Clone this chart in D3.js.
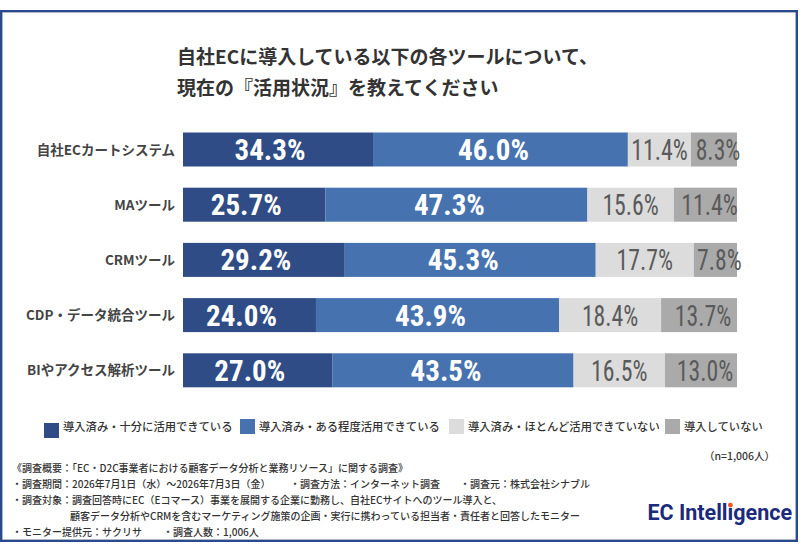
<!DOCTYPE html>
<html>
<head>
<meta charset="utf-8">
<script src="https://cdn.jsdelivr.net/npm/d3@7"></script>
<style>
  body { margin: 0; background: #fff; }
  svg { display: block; }
  .jp { font-family: "Noto Sans CJK JP", "Noto Sans", sans-serif; }
  .num { font-family: "Liberation Sans Narrow", "Roboto Condensed", Roboto, sans-serif; }
</style>
</head>
<body>
<div id="chart"></div>
<script>
// Chart data
const categories = ['自社ECカートシステム', 'MAツール', 'CRMツール', 'CDP・データ統合ツール', 'BIやアクセス解析ツール']
const seriesNames = ['導入済み・十分に活用できている', '導入済み・ある程度活用できている', '導入済み・ほとんど活用できていない', '導入していない']
const fullyUsed = [34.3, 25.7, 29.2, 24.0, 27.0]
const partlyUsed = [46.0, 47.3, 45.3, 43.9, 43.5]
const hardlyUsed = [11.4, 15.6, 17.7, 18.4, 16.5]
const notUsed = [8.3, 11.4, 7.8, 13.7, 13.0]
const titleLines = ['自社ECに導入している以下の各ツールについて、', '現在の『活用状況』を教えてください']
const sampleNote = '（n=1,006人）'
const notes = [
  [{ x: 12, t: '《調査概要：「EC・D2C事業者における顧客データ分析と業務リソース」に関する調査》' }],
  [{ x: 12, t: '・調査期間：2026年7月1日（水）～2026年7月3日（金）' },
   { x: 290, t: '・調査方法：インターネット調査' },
   { x: 460, t: '・調査元：株式会社シナブル' }],
  [{ x: 12, t: '・調査対象：調査回答時にEC（Eコマース）事業を展開する企業に勤務し、自社ECサイトへのツール導入と、' }],
  [{ x: 70, t: '顧客データ分析やCRMを含むマーケティング施策の企画・実行に携わっている担当者・責任者と回答したモニター' }],
  [{ x: 12, t: '・モニター提供元：サクリサ' },
   { x: 163, t: '・調査人数：1,006人' }]
]

const colors = ['#2f4c86', '#4672b0', '#dcdcdc', '#aaaaaa']
const labelColors = ['#ffffff', '#ffffff', '#5a5a5a', '#5a5a5a']
const labelWeights = [700, 700, 400, 400]
// per-series nudge and horizontal squeeze of the value labels (condensed look)
const labelNudge = [-8, -7, 0, 4]
const labelSqueeze = [1, 1, 0.82, 0.82]

const width = 800
const height = 553

const svg = d3.select('#chart').append('svg')
  .attr('width', width)
  .attr('height', height)

// Frame
svg.append('rect')
  .attr('x', 1.2).attr('y', 11.2)
  .attr('width', 795.6).attr('height', 529.6)
  .attr('fill', '#fff')
  .attr('stroke', '#2b4a8b')
  .attr('stroke-width', 2.4)

// Title
svg.append('g').selectAll('text')
  .data(titleLines)
  .enter()
  .append('text')
  .attr('class', 'jp')
  .attr('x', 177)
  .attr('y', (d, i) => 64 + i * 31)
  .attr('font-size', 19)
  .attr('font-weight', 700)
  .attr('fill', '#333')
  .text(d => d)

// Scales
const x = d3.scaleLinear().domain([0, 100]).range([183, 737])
const y = d3.scaleBand()
  .domain(categories)
  .range([132.5, 387.3])
  .paddingInner(0.384)
  .paddingOuter(0)

// Stack the data
const rows = categories.map((c, i) => ({
  cat: c,
  s0: fullyUsed[i], s1: partlyUsed[i], s2: hardlyUsed[i], s3: notUsed[i]
}))
const stack = d3.stack().keys(['s0', 's1', 's2', 's3'])(rows)

svg.append('g').selectAll('g')
  .data(stack)
  .enter()
  .append('g')
  .attr('fill', (d, i) => colors[i])
  .selectAll('rect')
  .data(d => d)
  .enter()
  .append('rect')
  .attr('x', d => x(d[0]))
  .attr('y', d => y(d.data.cat))
  .attr('width', d => x(d[1]) - x(d[0]))
  .attr('height', y.bandwidth())

// Value labels
stack.forEach((layer, k) => {
  svg.append('g').selectAll('text')
    .data(layer)
    .enter()
    .append('text')
    .attr('class', 'num')
    .attr('transform', d => {
      let cx = (x(d[0]) + x(d[1])) / 2 + labelNudge[k]
      let cy = y(d.data.cat) + y.bandwidth() / 2 + 10.5
      return `translate(${cx}, ${cy}) scale(${labelSqueeze[k]}, 1)`
    })
    .attr('text-anchor', 'middle')
    .attr('font-size', 29)
    .attr('font-weight', labelWeights[k])
    .attr('fill', labelColors[k])
    .text(d => (d[1] - d[0]).toFixed(1) + '%')
})

// Category labels
svg.append('g').selectAll('text')
  .data(categories)
  .enter()
  .append('text')
  .attr('class', 'jp')
  .attr('x', 175)
  .attr('y', d => y(d) + y.bandwidth() / 2 + 5)
  .attr('text-anchor', 'end')
  .attr('font-size', 13.5)
  .attr('font-weight', 700)
  .attr('fill', '#444')
  .text(d => d)

// Legend
const legendX = [44, 240, 449, 665]
const legendBoxY = [423, 419, 419, 419]
const legend = svg.append('g').selectAll('g')
  .data(seriesNames)
  .enter()
  .append('g')

legend.append('rect')
  .attr('x', (d, i) => legendX[i])
  .attr('y', (d, i) => legendBoxY[i])
  .attr('width', 15)
  .attr('height', 15)
  .attr('fill', (d, i) => colors[i])

legend.append('text')
  .attr('class', 'jp')
  .attr('x', (d, i) => legendX[i] + 19)
  .attr('y', 430.5)
  .attr('font-size', 11.3)
  .attr('font-weight', 500)
  .attr('fill', '#333')
  .text(d => d)

// Sample size
svg.append('text')
  .attr('class', 'jp')
  .attr('x', 775)
  .attr('y', 460)
  .attr('text-anchor', 'end')
  .attr('font-size', 10.5)
  .attr('font-weight', 500)
  .attr('fill', '#333')
  .text(sampleNote)

// Footnotes
notes.forEach((line, i) => {
  svg.append('g').selectAll('text')
    .data(line)
    .enter()
    .append('text')
    .attr('class', 'jp')
    .attr('x', d => d.x)
    .attr('y', 471.5 + i * 16.1)
    .attr('font-size', 10)
    .attr('font-weight', 500)
    .attr('fill', '#333')
    .text(d => d.t)
})

// Logo
const logo = svg.append('text')
  .attr('x', 792)
  .attr('y', 520)
  .attr('text-anchor', 'end')
  .attr('font-family', 'Roboto, "Liberation Sans", sans-serif')
  .attr('font-size', 21.5)
  .attr('font-weight', 700)
  .attr('fill', '#1c2a7c')
  .text('EC Intelligence')

// Orange dot over the "i" of "Intelli-gence"
const logoNode = logo.node()
const iStart = logoNode.getStartPositionOfChar(9)
const iEnd = logoNode.getEndPositionOfChar(9)
svg.append('circle')
  .attr('cx', (iStart.x + iEnd.x) / 2)
  .attr('cy', 520 - 21.5 * 0.69)
  .attr('r', 2.3)
  .attr('fill', '#f0561d')
</script>
</body>
</html>
